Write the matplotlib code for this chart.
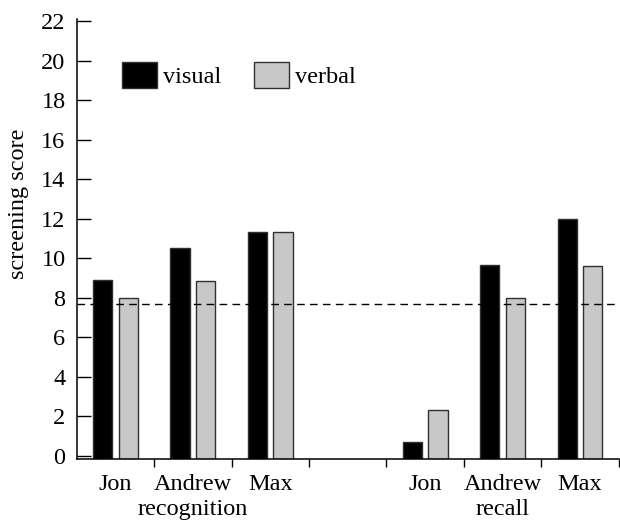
import matplotlib
matplotlib.use("Agg")
import matplotlib.pyplot as plt
import matplotlib.transforms as mtransforms
import numpy as np

# --- data -------------------------------------------------------------
names = ["Jon", "Andrew", "Max"]
tasks = ["recognition", "recall"]
recognition_visual = [8.9, 10.5, 11.3]
recognition_verbal = [8.0, 8.85, 11.3]
recall_visual = [0.67, 9.65, 12.0]
recall_verbal = [2.3, 8.0, 9.6]
cutoff = 7.7
y_ticks = list(range(0, 23, 2))

# --- style ------------------------------------------------------------
plt.rcParams["font.family"] = ["Liberation Serif", "DejaVu Serif"]
FS = 17.5
visual_color = "black"
verbal_color = "#c8c8c8"
edge_color = "#303030"

fig = plt.figure(figsize=(6.2, 5.22), dpi=100)
ax = fig.add_axes([0.1237, 0.1207, 0.8742, 0.8425])

y_floor = -0.17
ax.set_ylim(y_floor, 22.1)
ax.set_xlim(-0.5, 6.5)

# slot positions: three names per task, one empty slot between tasks
rec_x = np.arange(len(names))
rcl_x = np.arange(len(names)) + len(names) + 1
half_gap = 0.165
bw = 0.25

def bars(xs, vals, color, label=None):
    ax.bar(xs, np.array(vals) - y_floor, bottom=y_floor, width=bw,
           color=color, edgecolor=edge_color, linewidth=1.0,
           label=label, zorder=2)

bars(rec_x - half_gap, recognition_visual, visual_color, "visual")
bars(rec_x + half_gap, recognition_verbal, verbal_color, "verbal")
bars(rcl_x - half_gap, recall_visual, visual_color)
bars(rcl_x + half_gap, recall_verbal, verbal_color)

# threshold line
ln = ax.axhline(cutoff, color="black", lw=1.0, zorder=3)
ln.set_dashes((5.5, 3.8))

# spines
for s in ("top", "right"):
    ax.spines[s].set_visible(False)
for s in ("left", "bottom"):
    ax.spines[s].set_linewidth(1.1)

# y axis: inward ticks
ax.set_yticks(y_ticks)
ax.tick_params(axis="y", direction="in", length=10, width=1.0,
               labelsize=FS, pad=8.0)

# x axis: boundary ticks (major), name labels on minor ticks
ax.set_xticks(np.arange(0.5, 6.6, 1.0))
ax.set_xticklabels([])
ax.tick_params(axis="x", which="major", direction="out", length=5.5, width=1.0)
ax.set_xticks(np.concatenate([rec_x, rcl_x]), minor=True)
ax.set_xticklabels(names + names, minor=True)
ax.tick_params(axis="x", which="minor", length=0, labelsize=FS, pad=10.5)

# task labels under the name labels
trans = mtransforms.blended_transform_factory(ax.transData, ax.transAxes)
ax.text(rec_x[1], -0.114, tasks[0], transform=trans, ha="center",
        va="center", fontsize=FS)
ax.text(rcl_x[1], -0.114, tasks[1], transform=trans, ha="center",
        va="center", fontsize=FS)

ax.set_ylabel("screening score", fontsize=FS)
ax.yaxis.set_label_coords(-0.088, 0.58)

ax.legend(loc="center left", bbox_to_anchor=(0.083, 0.874), ncol=2,
          frameon=False, fontsize=FS, handlelength=1.44, handleheight=1.28,
          handletextpad=0.25, columnspacing=1.36, borderpad=0,
          borderaxespad=0)

fig.savefig("out.png", dpi=100, facecolor="white")
